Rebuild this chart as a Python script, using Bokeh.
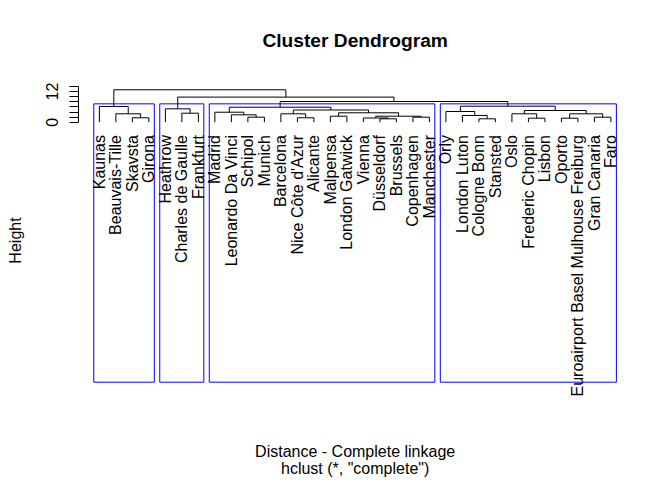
import numpy as np
from bokeh.plotting import figure
from bokeh.models import LinearAxis, FixedTicker, Range1d, ColumnDataSource
from bokeh.core.properties import value
from bokeh.embed import file_html
from bokeh.resources import INLINE

# ---------------- data ----------------
leaf_labels = [
    "Kaunas", "Beauvais-Tille", "Skavsta", "Girona",
    "Heathrow", "Charles de Gaulle", "Frankfurt",
    "Madrid", "Leonardo Da Vinci", "Schipol", "Munich", "Barcelona",
    "Nice Côte d'Azur", "Alicante", "Malpensa", "London Gatwick", "Vienna",
    "Düsseldorf", "Brussels", "Copenhagen", "Manchester",
    "Orly", "London Luton", "Cologne Bonn", "Stansted", "Oslo",
    "Frederic Chopin", "Lisbon", "Oporto",
    "Euroairport Basel Mulhouse Freiburg", "Gran Canaria", "Faro",
]

# merge table (R hclust style): negative = leaf position (1-based, plot order),
# positive = earlier merge row (1-based)
merge_left = [-18, -24, -27, -29, -17, -3, -13, -10, -20, -31, -15, 5, -23, -9,
              -2, -12, -26, 4, -6, 11, -8, -22, 17, 16, -5, 21, -1, 22, 26, 25, 27]
merge_right = [-19, -25, -28, -30, 1, -4, -14, -11, -21, -32, -16, 9, 2, 8,
               6, 7, 3, 10, -7, 12, 14, 13, 18, 20, 19, 24, 15, 23, 28, 29, 30]
merge_height = [1.33, 1.33, 1.57, 1.57, 1.65, 1.73, 1.73, 1.96, 1.96, 1.96,
                2.35, 2.35, 2.63, 2.90, 3.29, 3.29, 3.29, 3.29, 3.53, 3.69,
                3.92, 4.20, 4.59, 4.78, 5.25, 5.88, 6.16, 6.27, 8.12, 9.84, 12.71]

cluster_sizes = [4, 3, 14, 11]
y_ticks = [0, 2, 4, 6, 8, 10, 12, 14]
y_tick_labels = {0: "0", 12: "12"}

title_text = "Cluster Dendrogram"
xlab_text = "Distance - Complete linkage"
sub_text = 'hclust (*, "complete")'
ylab_text = "Height"

# ---------------- layout ----------------
W, H = 672, 480
FRAME_LEFT = 78
Y0_PX = 121.7          # pixel row of height 0
PX_PER_UNIT = 2.55     # pixels per height unit
USR_BOTTOM_PX = 381.7  # bottom of R plot region
LABEL_TOP_PX = 134.5
TITLE_PX = 40
XLAB_PX = 451
SUB_PX = 468

def h_of_px(py):
    return (Y0_PX - py) / PX_PER_UNIT

n = len(leaf_labels)
usr_x0 = 1 - 0.04 * (n - 1)
usr_x1 = n + 0.04 * (n - 1)
usr_left_px, usr_right_px = 78.4, 630.9
ux = (usr_right_px - usr_left_px) / (usr_x1 - usr_x0)
x_start = usr_x0 - (usr_left_px - FRAME_LEFT) / ux
x_end = usr_x1 + (W - usr_right_px) / ux

# ---------------- tree geometry ----------------
node_x, node_h = [], []
xs, ys = [], []
def child(c):
    if c < 0:
        return float(-c), 0.0
    return node_x[c - 1], node_h[c - 1]
for l, r, h in zip(merge_left, merge_right, merge_height):
    xl, hl = child(l)
    xr, hr = child(r)
    xs.append([xl, xl, xr, xr])
    ys.append([hl, h, h, hr])
    node_x.append((xl + xr) / 2)
    node_h.append(h)

k = len(cluster_sizes)
sorted_h = sorted(merge_height, reverse=True)
rect_top = (sorted_h[k - 2] + sorted_h[k - 1]) / 2
rect_bottom = h_of_px(USR_BOTTOM_PX)
bounds = np.cumsum([0] + cluster_sizes)
rl = [bounds[i] + 0.66 for i in range(k)]
rr = [bounds[i + 1] + 0.33 for i in range(k)]

# ---------------- figure ----------------
p = figure(width=W, height=H, output_backend="svg", toolbar_location=None,
           x_range=Range1d(x_start, x_end), y_range=Range1d(h_of_px(H), h_of_px(0)),
           x_axis_location=None, y_axis_location=None,
           min_border_left=FRAME_LEFT, min_border_right=0,
           min_border_top=0, min_border_bottom=0)
p.outline_line_color = None
p.background_fill_color = "white"
p.border_fill_color = "white"
p.xgrid.grid_line_color = None
p.ygrid.grid_line_color = None

p.multi_line(xs=xs, ys=ys, line_color="black", line_width=1)

p.quad(left=rl, right=rr, bottom=[rect_bottom] * k, top=[rect_top] * k,
       fill_color=None, line_color="blue", line_width=1)

FONT = value("Liberation Sans")
src = ColumnDataSource(dict(x=list(range(1, n + 1)), y=[h_of_px(LABEL_TOP_PX)] * n,
                            t=leaf_labels))
p.text(x="x", y="y", text="t", source=src, angle=np.pi / 2, text_align="right",
       text_baseline="middle", text_font=FONT, text_font_size="16px", text_color="black")

xc = (usr_x0 + usr_x1) / 2
p.text(x=[xc], y=[h_of_px(TITLE_PX)], text=[title_text], text_align="center",
       text_baseline="middle", text_font=FONT, text_font_size="19.2px",
       text_font_style="bold", text_color="black")
p.text(x=[xc, xc], y=[h_of_px(XLAB_PX), h_of_px(SUB_PX)], text=[xlab_text, sub_text],
       text_align="center", text_baseline="middle", text_font=FONT,
       text_font_size="16px", text_color="black")

yaxis = LinearAxis(ticker=FixedTicker(ticks=y_ticks), bounds=(min(y_ticks), max(y_ticks)),
                   axis_label=ylab_text)
yaxis.major_label_overrides = {t: y_tick_labels.get(t, "") for t in y_ticks}
yaxis.major_label_orientation = "vertical"
yaxis.major_label_text_font = "Liberation Sans"
yaxis.major_label_text_font_size = "16px"
yaxis.major_label_text_color = "black"
yaxis.major_label_standoff = 11
yaxis.major_tick_out = 9
yaxis.major_tick_in = 0
yaxis.minor_tick_out = 0
yaxis.minor_tick_in = 0
yaxis.axis_line_color = "black"
yaxis.major_tick_line_color = "black"
yaxis.axis_label_text_font = "Liberation Sans"
yaxis.axis_label_text_font_size = "16px"
yaxis.axis_label_text_font_style = "normal"
yaxis.axis_label_text_color = "black"
yaxis.axis_label_standoff = 20
p.add_layout(yaxis, "left")

open("out.html", "w").write(file_html(p, INLINE))
